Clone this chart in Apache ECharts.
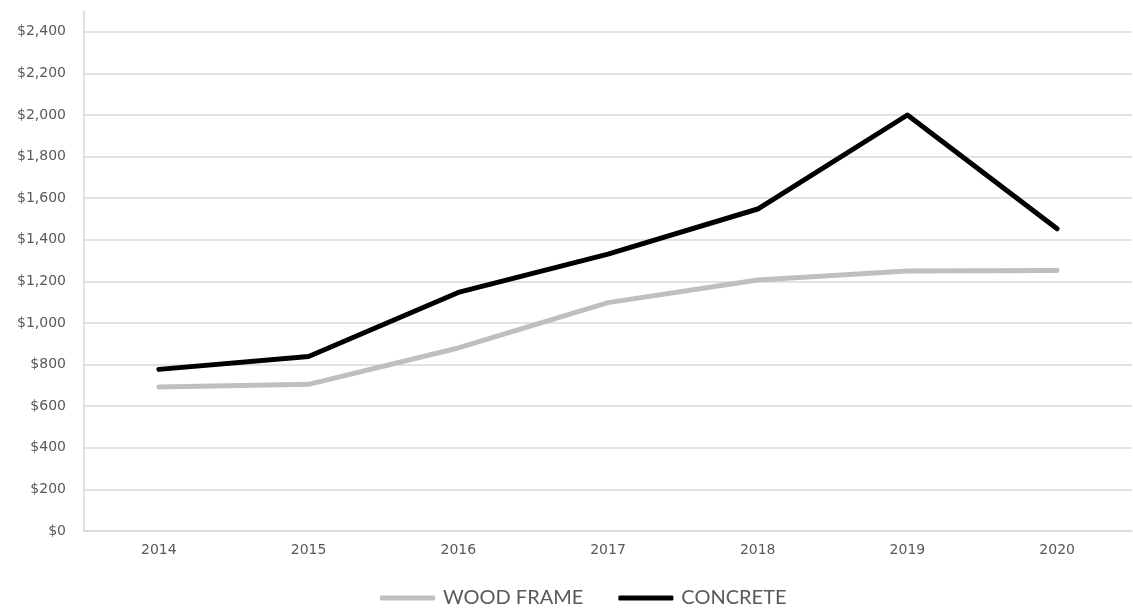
<!DOCTYPE html>
<html>
<head>
<meta charset="utf-8">
<script src="https://cdn.jsdelivr.net/npm/echarts@6/dist/echarts.min.js"></script>
<style>
html,body{margin:0;padding:0;background:#fff;}
#c{width:1133px;height:609px;}
</style>
</head>
<body>
<div id="c"></div>
<script>
var years = ['2014','2015','2016','2017','2018','2019','2020'];
var woodFrame = [692, 705, 880, 1098, 1207, 1250, 1253];
var concrete = [777, 839, 1147, 1331, 1548, 2000, 1453];

var chart = echarts.init(document.getElementById('c'));
chart.setOption({
  animation: false,
  grid: {left: 84, right: 1, top: 11, bottom: 78, containLabel: false},
  legend: {
    top: 588,
    left: 380,
    padding: 0,
    itemWidth: 55,
    itemHeight: 5,
    itemGap: 35,
    icon: 'roundRect',
    textStyle: {color: '#595959', fontSize: 20, fontFamily: 'Lato', padding: [0, 0, 0, 3]},
    data: ['WOOD FRAME', 'CONCRETE']
  },
  xAxis: {
    type: 'category',
    data: years,
    boundaryGap: true,
    axisLine: {show: true, lineStyle: {color: '#d9d9d9', width: 1.5}},
    axisTick: {show: false},
    axisLabel: {color: '#595959', fontSize: 14, fontFamily: 'DejaVu Sans', margin: 12}
  },
  yAxis: {
    type: 'value',
    min: 0,
    max: 2500,
    interval: 200,
    axisLine: {show: true, lineStyle: {color: '#d9d9d9', width: 1.5}},
    axisTick: {show: false},
    splitLine: {show: true, showMaxLine: false, lineStyle: {color: '#d9d9d9', width: 1.5}},
    axisLabel: {
      color: '#595959', fontSize: 14, fontFamily: 'DejaVu Sans', margin: 18,
      showMaxLabel: false,
      formatter: function (v) { return v > 2400 ? '' : '$' + v.toLocaleString('en-US'); }
    }
  },
  series: [
    {
      name: 'WOOD FRAME', type: 'line', data: woodFrame,
      symbol: 'none', color: '#bfbfbf',
      lineStyle: {color: '#bfbfbf', width: 5, cap: 'round', join: 'round'}
    },
    {
      name: 'CONCRETE', type: 'line', data: concrete,
      symbol: 'none', color: '#000000',
      lineStyle: {color: '#000000', width: 5, cap: 'round', join: 'round'}
    }
  ]
});
</script>
</body>
</html>
